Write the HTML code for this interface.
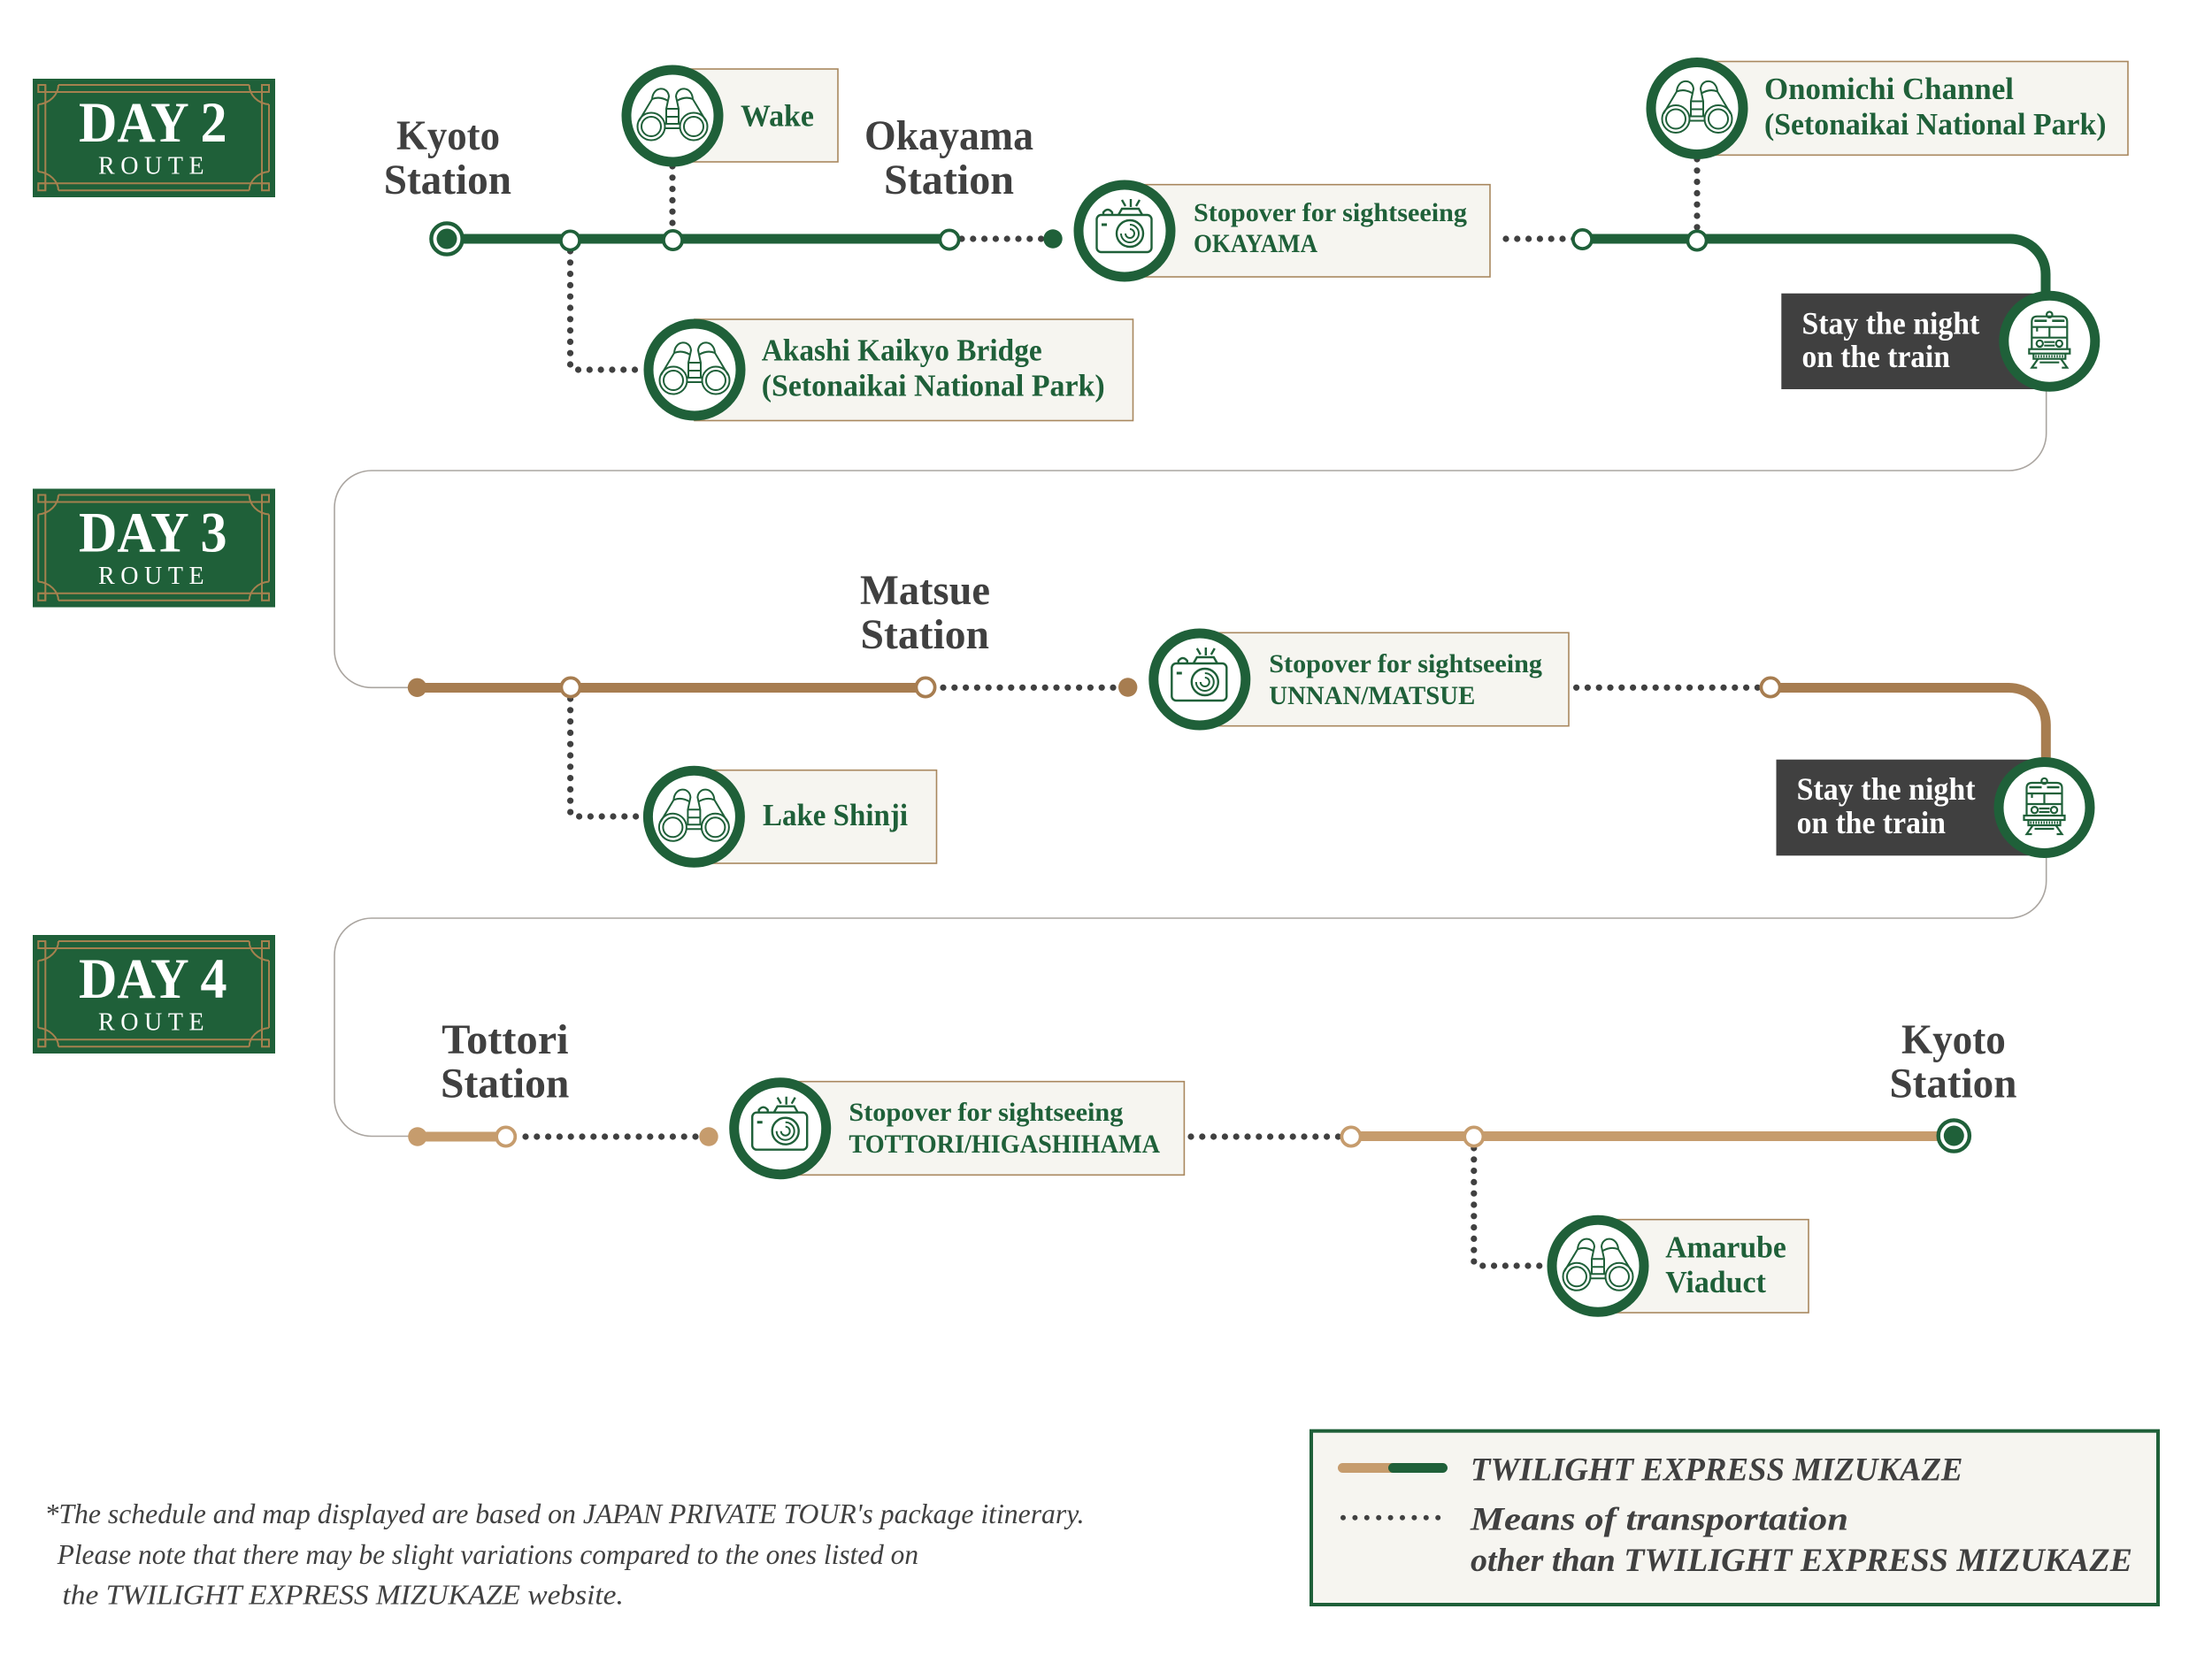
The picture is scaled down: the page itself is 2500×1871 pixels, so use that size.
<!DOCTYPE html>
<html lang="en"><head><meta charset="utf-8"><title>Twilight Express Mizukaze route</title>
<style>
html,body{margin:0;padding:0;background:#fff}
svg{display:block}
text{font-family:"Liberation Serif",serif;font-weight:700}
.st{font-size:48px;fill:#404040}
.g35{font-size:35px;fill:#1f6039}
.g30{font-size:30px;fill:#1f6039}
.w{font-size:36px;fill:#fff}
.lg{font-size:37px;fill:#404040;font-style:italic}
.fn{font-size:32px;fill:#404040;font-style:italic;font-weight:400}
.day{font-size:65px;fill:#fff}
.rt{font-size:28px;fill:#fff;font-weight:400}
.box{fill:#f6f5f0;stroke:#a9885f;stroke-width:1.6}
.dot{fill:none;stroke:#404040;stroke-width:7.2;stroke-linecap:round;stroke-dasharray:0 12.8}
.ring{fill:#fff;stroke:#1f6039;stroke-width:11}
.sm{fill:#fff;stroke-width:3.8}
.gr{fill:none;stroke:#aaa5a0;stroke-width:1.6}
</style></head><body>
<svg width="2500" height="1871" viewBox="0 0 2500 1871" xmlns="http://www.w3.org/2000/svg">
<defs>
<g id="badge">
<rect x="37" y="89" width="274" height="134" fill="#1f6039"/>
<g fill="none" stroke="#a5814f" stroke-width="2">
<path d="M43.3 104H304M43.3 207.3H304M66 96H281.7M66 215.3H281.7M51.3 96V215.3M296 96V215.3M43.3 118V194M304 118V194"/>
<path d="M43.3 96H51.3V104H43.3ZM296 96H304V104H296ZM43.3 207.3H51.3V215.3H43.3ZM296 207.3H304V215.3H296Z"/>
<path d="M43.3 118C56 117 66 107 66 96M304 118C291 117 281.7 107 281.7 96M43.3 194C56 195 66 205 66 215.3M304 194C291 195 281.7 205 281.7 215.3"/>
</g>
</g>
<g id="bino" fill="none" stroke="#1f6039" stroke-width="2">
<circle cx="-24" cy="12" r="15.5"/><circle cx="-24" cy="12" r="11"/>
<circle cx="24" cy="12" r="15.5"/><circle cx="24" cy="12" r="11"/>
<path d="M-38 6L-23 -19C-22 -34 -5 -34 -4 -22L-7 -8V1"/>
<path d="M38 6L23 -19C22 -34 5 -34 4 -22L7 -8V1"/>
<path d="M-23 -19C-16 -22 -10 -20 -5 -17M23 -19C16 -22 10 -20 5 -17"/>
<path d="M-7 -8H7M-7 1H7M-7 1V9M7 1V9M-8 9H8M-8 14H8"/>
</g>
<g id="cam" fill="none" stroke="#1f6039" stroke-width="2.4">
<rect x="-31.5" y="-18" width="62" height="42" rx="5"/>
<path d="M-7 -18L-3 -25H16L20 -18"/>
<path d="M-24 -18V-21Q-19 -27 -14 -21V-18"/>
<circle cx="6" cy="3" r="15"/><path d="M6 -7A10 10 0 1 1 -4 3M6 -2A5 5 0 1 1 1 3" stroke-width="2"/>
<path d="M7 -36V-27M-3 -35L1 -28M17 -35L13 -28" stroke-width="2.4"/>
<path d="M-26 -7H-20" stroke-width="3"/>
</g>
<g id="train" fill="none" stroke="#1f6039" stroke-width="2.2">
<circle cx="0" cy="-30" r="3.2"/>
<path d="M-20 9V-22Q-20 -28 -14 -28H14Q20 -28 20 -22V9"/>
<path d="M-17 -23H-3M3 -23H17" stroke-width="2.6"/>
<path d="M-20 -16H20M-20 -4H20M0 -16V-4M-14 -16V-11"/>
<circle cx="-11" cy="2.7" r="3.6"/><circle cx="11" cy="2.7" r="3.6"/>
<path d="M-6 1H6M-6 5H6"/>
<rect x="-23" y="9" width="46" height="5"/>
<path d="M-18 14V20H18V14"/>
<path d="M-16 17H16" stroke-dasharray="1.5 1.5" stroke-width="3"/>
<path d="M-13 20L-20 30H-14M13 20L20 30H14M-11 24H11"/>
</g>
</defs>

<rect width="2500" height="1871" fill="#fff"/>

<!-- badges -->
<use href="#badge"/>
<text class="day" x="89" y="160" textLength="167.5" lengthAdjust="spacingAndGlyphs">DAY 2</text>
<text class="rt" x="111" y="196.7" textLength="119.6" lengthAdjust="spacing">ROUTE</text>
<use href="#badge" y="463.5"/>
<text class="day" x="89" y="623.5" textLength="167.5" lengthAdjust="spacingAndGlyphs">DAY 3</text>
<text class="rt" x="111" y="660.2" textLength="119.6" lengthAdjust="spacing">ROUTE</text>
<use href="#badge" y="968"/>
<text class="day" x="89" y="1128" textLength="167.5" lengthAdjust="spacingAndGlyphs">DAY 4</text>
<text class="rt" x="111" y="1164.7" textLength="119.6" lengthAdjust="spacing">ROUTE</text>

<!-- grey connectors -->
<path class="gr" d="M2312.7 442V490A42 42 0 0 1 2270.7 532H420A42 42 0 0 0 378 574V735A42 42 0 0 0 420 777.3H472"/>
<path class="gr" d="M2312.7 969V996A42 42 0 0 1 2270.7 1038H420A42 42 0 0 0 378 1080V1242A42 42 0 0 0 420 1284.5H472"/>

<!-- day 2 -->
<path d="M505 270H1073" stroke="#1f6039" stroke-width="11" fill="none"/>
<path d="M1788 270H2272A40 40 0 0 1 2312 310V345" stroke="#1f6039" stroke-width="11" fill="none"/>
<path class="dot" d="M1087 270H1181"/>
<path class="dot" d="M1702 270H1780"/>
<path class="dot" d="M760 188V262"/>
<path class="dot" d="M1918 180V262"/>
<path class="dot" d="M644.5 284V412Q644.5 418 650 418H730"/>

<rect class="box" x="760" y="78" width="187" height="105"/>
<rect class="box" x="785" y="361" width="495.5" height="114.5"/>
<rect class="box" x="1271" y="208.7" width="413" height="104.3"/>
<rect class="box" x="1918" y="69.5" width="487" height="105.8"/>
<rect x="2013.3" y="331.7" width="300" height="108.3" fill="#404040"/>

<circle cx="505" cy="270" r="17.6" fill="#fff" stroke="#1f6039" stroke-width="4.4"/>
<circle cx="505" cy="270" r="11.5" fill="#1f6039"/>
<circle class="sm" stroke="#1f6039" cx="644.5" cy="272" r="10.6"/>
<circle class="sm" stroke="#1f6039" cx="760.5" cy="271.5" r="10.6"/>
<circle class="sm" stroke="#1f6039" cx="1073" cy="271" r="10.6"/>
<circle cx="1190" cy="270" r="10.7" fill="#1f6039"/>
<circle class="sm" stroke="#1f6039" cx="1788.5" cy="270.5" r="10.6"/>
<circle class="sm" stroke="#1f6039" cx="1918" cy="272" r="10.6"/>

<circle class="ring" cx="760" cy="131" r="52"/><use href="#bino" x="760" y="131"/>
<circle class="ring" cx="785" cy="418" r="52"/><use href="#bino" x="785" y="418"/>
<circle class="ring" cx="1271" cy="261" r="52"/><use href="#cam" x="1271" y="261"/>
<circle class="ring" cx="1918" cy="122.5" r="52"/><use href="#bino" x="1918" y="122.5"/>
<circle class="ring" cx="2316.3" cy="385.7" r="51.5"/><use href="#train" x="2316.3" y="385.7"/>

<text class="st" x="448" y="169" textLength="117" lengthAdjust="spacingAndGlyphs">Kyoto</text>
<text class="st" x="433.7" y="219" textLength="144.3" lengthAdjust="spacingAndGlyphs">Station</text>
<text class="st" x="977" y="169" textLength="191" lengthAdjust="spacingAndGlyphs">Okayama</text>
<text class="st" x="999" y="219" textLength="147" lengthAdjust="spacingAndGlyphs">Station</text>
<text class="g35" x="837" y="142.5" textLength="83" lengthAdjust="spacingAndGlyphs">Wake</text>
<text class="g35" x="860.7" y="407.5" textLength="317" lengthAdjust="spacingAndGlyphs">Akashi Kaikyo Bridge</text>
<text class="g35" x="860.7" y="447.5" textLength="388" lengthAdjust="spacingAndGlyphs">(Setonaikai National Park)</text>
<text class="g30" x="1349" y="250" textLength="309" lengthAdjust="spacingAndGlyphs">Stopover for sightseeing</text>
<text class="g30" x="1349" y="285" textLength="140" lengthAdjust="spacingAndGlyphs">OKAYAMA</text>
<text class="g35" x="1994" y="112" textLength="282" lengthAdjust="spacingAndGlyphs">Onomichi Channel</text>
<text class="g35" x="1994" y="152" textLength="386.5" lengthAdjust="spacingAndGlyphs">(Setonaikai National Park)</text>
<text class="w" x="2036.5" y="377.3" textLength="200.8" lengthAdjust="spacingAndGlyphs">Stay the night</text>
<text class="w" x="2036.5" y="415" textLength="167.5" lengthAdjust="spacingAndGlyphs">on the train</text>

<!-- day 3 -->
<path d="M471 777.5H1046" stroke="#a77d50" stroke-width="11" fill="none"/>
<path d="M2001 777.5H2270A42 42 0 0 1 2312.3 819.5V865" stroke="#a77d50" stroke-width="11" fill="none"/>
<path class="dot" d="M1066 777.3H1264"/>
<path class="dot" d="M1781.6 777.3H1990"/>
<path class="dot" d="M644.6 790V917Q644.6 923 650 923H728"/>

<rect class="box" x="784" y="870.7" width="274.5" height="105.3"/>
<rect class="box" x="1356" y="715.3" width="417" height="105.4"/>
<rect x="2007.5" y="858.7" width="300" height="108.6" fill="#404040"/>

<circle cx="471.5" cy="777.3" r="10.7" fill="#a77d50"/>
<circle class="sm" stroke="#a77d50" cx="645" cy="777" r="10.6"/>
<circle class="sm" stroke="#a77d50" cx="1046" cy="777" r="10.6"/>
<circle cx="1274.7" cy="777" r="10.7" fill="#a77d50"/>
<circle class="sm" stroke="#a77d50" cx="2001" cy="777" r="10.6"/>

<circle class="ring" cx="784.4" cy="923.3" r="52"/><use href="#bino" x="784.4" y="923.3"/>
<circle class="ring" cx="1355.8" cy="768" r="52"/><use href="#cam" x="1355.8" y="768"/>
<circle class="ring" cx="2310.5" cy="913" r="51.5"/><use href="#train" x="2310.5" y="913"/>

<text class="st" x="972" y="683" textLength="147" lengthAdjust="spacingAndGlyphs">Matsue</text>
<text class="st" x="972.5" y="733" textLength="145.5" lengthAdjust="spacingAndGlyphs">Station</text>
<text class="g35" x="862" y="933" textLength="164" lengthAdjust="spacingAndGlyphs">Lake Shinji</text>
<text class="g30" x="1434.3" y="760" textLength="308.7" lengthAdjust="spacingAndGlyphs">Stopover for sightseeing</text>
<text class="g30" x="1434.3" y="796" textLength="233" lengthAdjust="spacingAndGlyphs">UNNAN/MATSUE</text>
<text class="w" x="2030.6" y="904" textLength="202" lengthAdjust="spacingAndGlyphs">Stay the night</text>
<text class="w" x="2030.6" y="942.2" textLength="168.4" lengthAdjust="spacingAndGlyphs">on the train</text>

<!-- day 4 -->
<path d="M472 1285H571" stroke="#c69c6d" stroke-width="11" fill="none"/>
<path d="M1527 1284.5H2200" stroke="#c69c6d" stroke-width="11" fill="none"/>
<path class="dot" d="M594 1285H790"/>
<path class="dot" d="M1346 1285H1514"/>
<path class="dot" d="M1665.8 1298V1425Q1665.8 1431 1671 1431H1750"/>

<rect class="box" x="882" y="1222.7" width="456.4" height="105.6"/>
<rect class="box" x="1806" y="1378.7" width="238" height="105.3"/>

<circle cx="471.9" cy="1285" r="10.7" fill="#c69c6d"/>
<circle class="sm" stroke="#c69c6d" cx="571.7" cy="1285" r="10.6"/>
<circle cx="801" cy="1285" r="10.7" fill="#c69c6d"/>
<circle class="sm" stroke="#c69c6d" cx="1527" cy="1285" r="10.6"/>
<circle class="sm" stroke="#c69c6d" cx="1665.8" cy="1285" r="10.6"/>
<circle cx="2208.3" cy="1284" r="17.6" fill="#fff" stroke="#1f6039" stroke-width="4.4"/>
<circle cx="2208.3" cy="1284" r="11.5" fill="#1f6039"/>

<circle class="ring" cx="881.7" cy="1275.7" r="52"/><use href="#cam" x="881.7" y="1275.7"/>
<circle class="ring" cx="1806" cy="1431.3" r="52"/><use href="#bino" x="1806" y="1431.3"/>

<text class="st" x="499.3" y="1191" textLength="143.3" lengthAdjust="spacingAndGlyphs">Tottori</text>
<text class="st" x="498" y="1240.7" textLength="145.3" lengthAdjust="spacingAndGlyphs">Station</text>
<text class="g30" x="959.4" y="1267" textLength="310" lengthAdjust="spacingAndGlyphs">Stopover for sightseeing</text>
<text class="g30" x="959.4" y="1303" textLength="351.6" lengthAdjust="spacingAndGlyphs">TOTTORI/HIGASHIHAMA</text>
<text class="st" x="2149" y="1191" textLength="117.8" lengthAdjust="spacingAndGlyphs">Kyoto</text>
<text class="st" x="2135.5" y="1240.7" textLength="143.9" lengthAdjust="spacingAndGlyphs">Station</text>
<text class="g35" x="1882.2" y="1421.5" textLength="136.6" lengthAdjust="spacingAndGlyphs">Amarube</text>
<text class="g35" x="1882.2" y="1461" textLength="113.7" lengthAdjust="spacingAndGlyphs">Viaduct</text>

<!-- legend -->
<rect x="1482" y="1617.7" width="957" height="196.3" fill="#f6f5f0" stroke="#1f6039" stroke-width="4"/>
<rect x="1512" y="1654" width="70" height="11" rx="5.5" fill="#c69c6d"/>
<rect x="1569" y="1654" width="67" height="11" rx="5.5" fill="#1f6039"/>
<path d="M1518 1715.7H1627" fill="none" stroke="#404040" stroke-width="6" stroke-linecap="round" stroke-dasharray="0 13.4"/>
<text class="lg" x="1662" y="1673.3" textLength="556.5" lengthAdjust="spacingAndGlyphs">TWILIGHT EXPRESS MIZUKAZE</text>
<text class="lg" x="1662" y="1729.3" textLength="427" lengthAdjust="spacingAndGlyphs">Means of transportation</text>
<text class="lg" x="1662" y="1776" textLength="748" lengthAdjust="spacingAndGlyphs">other than TWILIGHT EXPRESS MIZUKAZE</text>

<!-- footnote -->
<text class="fn" x="50.5" y="1722" textLength="1175" lengthAdjust="spacingAndGlyphs">*The schedule and map displayed are based on JAPAN PRIVATE TOUR's package itinerary.</text>
<text class="fn" x="64.7" y="1768" textLength="973.3" lengthAdjust="spacingAndGlyphs">Please note that there may be slight variations compared to the ones listed on</text>
<text class="fn" x="70.5" y="1813.5" textLength="634.3" lengthAdjust="spacingAndGlyphs">the TWILIGHT EXPRESS MIZUKAZE website.</text>
</svg>
</body></html>
